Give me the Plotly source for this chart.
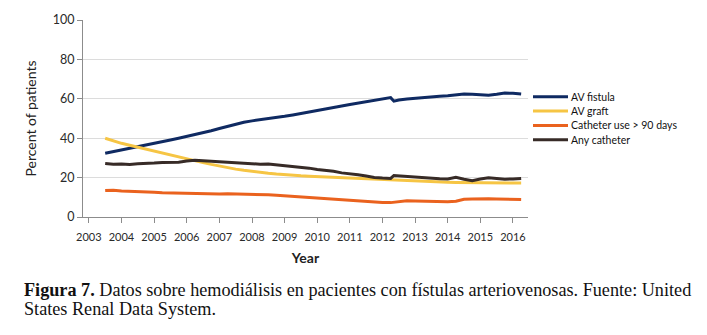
import plotly.graph_objects as go

# ---- data ----
time = [2003.5, 2003.75, 2004.0, 2004.25, 2004.5, 2004.75, 2005.0, 2005.25, 2005.5, 2005.75,
        2006.0, 2006.25, 2006.5, 2006.75, 2007.0, 2007.25, 2007.5, 2007.75, 2008.0, 2008.25,
        2008.5, 2008.75, 2009.0, 2009.25, 2009.5, 2009.75, 2010.0, 2010.25, 2010.5, 2010.75,
        2011.0, 2011.25, 2011.5, 2011.75, 2012.0, 2012.25, 2012.35, 2012.5, 2012.75, 2013.0,
        2013.25, 2013.5, 2013.75, 2014.0, 2014.25, 2014.5, 2014.75, 2015.0, 2015.25, 2015.5,
        2015.75, 2016.0, 2016.25]

av_fistula = [32.4, 33.2, 34.2, 35.0, 35.8, 36.6, 37.5, 38.3, 39.1, 40.0,
              40.9, 41.8, 42.8, 43.8, 44.9, 46.0, 47.0, 48.1, 48.8, 49.3,
              49.9, 50.5, 51.1, 51.8, 52.5, 53.3, 54.0, 54.7, 55.5, 56.3,
              57.1, 57.8, 58.6, 59.5, 60.1, 60.6, 58.8, 59.4, 59.9, 60.3,
              60.7, 61.0, 61.3, 61.5, 61.8, 62.4, 62.3, 61.9, 61.8, 62.3,
              62.9, 62.8, 62.4]

av_graft = [40.0, 38.6, 37.4, 36.4, 35.4, 34.4, 33.4, 32.4, 31.3, 30.3,
            29.4, 28.5, 27.6, 26.7, 25.8, 25.0, 24.3, 23.7, 23.1, 22.6,
            22.2, 21.8, 21.4, 21.1, 20.9, 20.7, 20.5, 20.3, 20.1, 19.9,
            19.7, 19.5, 19.3, 19.1, 19.0, 18.9, 18.8, 18.7, 18.5, 18.3,
            18.1, 17.9, 17.7, 17.6, 17.5, 17.4, 17.3, 17.3, 17.3, 17.2,
            17.2, 17.2, 17.2]

catheter_90 = [13.4, 13.6, 13.2, 13.1, 13.0, 13.0, 12.6, 12.3, 12.2, 12.1,
               11.9, 11.8, 11.8, 11.8, 11.7, 11.8, 11.7, 11.8, 11.5, 11.6,
               11.3, 11.0, 10.7, 10.4, 10.1, 10.0, 9.6, 9.3, 8.9, 8.5,
               8.4, 8.1, 7.8, 7.5, 7.3, 7.3, 7.5, 7.8, 8.2, 8.1,
               8.0, 7.9, 7.8, 7.7, 8.0, 9.0, 9.1, 9.3, 9.3, 9.2,
               9.2, 9.0, 8.9]

any_catheter = [27.2, 26.8, 26.9, 26.7, 27.0, 27.1, 27.4, 27.7, 27.9, 27.8,
                28.4, 28.8, 28.6, 28.3, 28.2, 28.0, 27.6, 27.2, 27.0, 26.8,
                26.9, 26.5, 26.2, 25.9, 25.4, 24.8, 24.1, 23.7, 23.2, 22.4,
                22.0, 21.5, 20.8, 20.1, 19.8, 19.6, 21.1, 20.9, 20.4, 20.3,
                19.9, 19.6, 19.4, 19.3, 20.1, 19.2, 18.4, 19.3, 19.9, 19.6,
                19.2, 19.3, 19.6]

series_names = ["AV fistula", "AV graft", "Catheter use > 90 days", "Any catheter"]
series_colors = ["#0f2a62", "#f6c544", "#ea621e", "#372b27"]
series_values = [av_fistula, av_graft, catheter_90, any_catheter]

year_ticks = [2003, 2004, 2005, 2006, 2007, 2008, 2009, 2010, 2011, 2012, 2013, 2014, 2015, 2016]
pct_ticks = [0, 20, 40, 60, 80, 100]

caption_line1 = ("<b>Figura 7.</b> Datos sobre hemodiálisis en pacientes con fístulas arteriovenosas. "
                 "Fuente: United")
caption_line2 = "States Renal Data System."

# ---- figure ----
W, H = 707, 335
L, R, T, B = 83, 179, 12, 117.5
pw = W - L - R
ph = H - T - B


def px_x(px):
    return (px - L) / pw


def px_y(py):
    return (H - B - py) / ph


fig = go.Figure()
for name, col, vals in zip(series_names, series_colors, series_values):
    fig.add_trace(go.Scatter(x=time, y=vals, mode="lines", name=name,
                             line=dict(color=col, width=3), showlegend=False))

fig.update_layout(
    width=W, height=H,
    margin=dict(l=L, r=R, t=T, b=B, pad=0),
    paper_bgcolor="white", plot_bgcolor="white",
    font=dict(family="Lato, Open Sans, sans-serif", color="#333333"),
    showlegend=False,
)

fig.update_xaxes(range=[2002.82, 2016.46], tickmode="array", tickvals=year_ticks,
                 ticktext=[str(y) for y in year_ticks],
                 showgrid=False, zeroline=False,
                 showline=True, linecolor="#8c8c8c", linewidth=1,
                 ticks="outside", ticklen=5, tickcolor="#8c8c8c", ticklabelstandoff=5,
                 tickfont=dict(size=11, color="#2a2a2a"),
                 title=dict(text="<b>Year</b>", font=dict(size=14, color="#222222"), standoff=10))

fig.update_yaxes(range=[0, 100], tickmode="array", tickvals=pct_ticks,
                 showgrid=True, gridcolor="#dcdcdc", gridwidth=1, zeroline=False,
                 showline=True, linecolor="#8c8c8c", linewidth=1,
                 ticks="outside", ticklen=5, tickcolor="#8c8c8c",
                 tickfont=dict(size=12.5, color="#2a2a2a"),
                 title=dict(text="Percent of patients", font=dict(size=14, color="#222222"), standoff=12))

# legend drawn to the right of the plot (compact spacing as in the reference)
legend_top, legend_step = 92, 15
for i, (name, col) in enumerate(zip(series_names, series_colors)):
    yy = px_y(legend_top + i * legend_step)
    fig.add_shape(type="line", xref="paper", yref="paper",
                  x0=px_x(533), x1=px_x(568), y0=yy, y1=yy,
                  line=dict(color=col, width=3))
    fig.add_annotation(text=name, xref="paper", yref="paper", x=px_x(569), y=yy,
                       xanchor="left", yanchor="middle", showarrow=False,
                       font=dict(size=10.5, color="#111111"))

serif = dict(family="Liberation Serif, Times New Roman, serif", size=18.2, color="#111111")
fig.add_annotation(text=caption_line1, xref="paper", yref="paper",
                   x=px_x(22), y=px_y(294), xanchor="left", yanchor="middle",
                   align="left", showarrow=False, font=serif)
fig.add_annotation(text=caption_line2, xref="paper", yref="paper",
                   x=px_x(22), y=px_y(313), xanchor="left", yanchor="middle",
                   align="left", showarrow=False, font=serif)

fig.write_html("out.html")
